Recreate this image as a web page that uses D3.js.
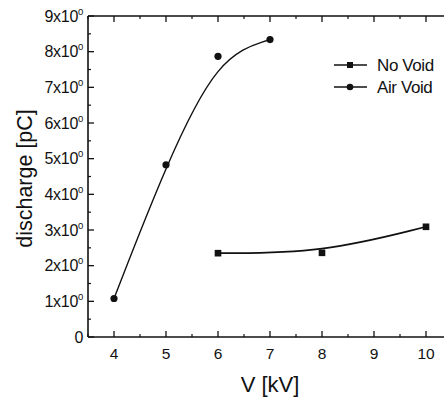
<!DOCTYPE html>
<html><head><meta charset="utf-8">
<script src="https://cdn.jsdelivr.net/npm/d3@7"></script>
<style>body{margin:0;background:#fff}svg{display:block}text{font-family:"Liberation Sans",Arial,sans-serif;fill:#111}</style>
</head><body>
<svg id="c" width="444" height="400"></svg>
<script>
const airX = [4, 5, 6, 7];
const airY = [1.08, 4.83, 7.87, 8.34];
const noX = [6, 8, 10];
const noY = [2.35, 2.36, 3.09];
const xTicks = [4, 5, 6, 7, 8, 9, 10];
const yTicks = [0, 1, 2, 3, 4, 5, 6, 7, 8, 9];
const seriesNames = ["No Void", "Air Void"];
const xTitle = "V [kV]";
const yTitle = "discharge [pC]";

const svg = d3.select("#c");
const L = 88, R = 452, T = 16, B = 337;
const x = d3.scaleLinear().domain([3.5, 10.5]).range([L, R]);
const y = d3.scaleLinear().domain([0, 9]).range([B, T]);
const ink = "#111";

const g = svg.append("g");
g.append("line").attr("x1", L).attr("x2", R).attr("y1", B).attr("y2", B).attr("stroke", ink).attr("stroke-width", 1.6);
g.append("line").attr("x1", L).attr("x2", R).attr("y1", T).attr("y2", T).attr("stroke", ink).attr("stroke-width", 1.6);
g.append("line").attr("x1", L).attr("x2", L).attr("y1", T).attr("y2", B).attr("stroke", ink).attr("stroke-width", 1.6);

const xMinor = d3.range(3.5, 10.51, 0.5).filter(v => !xTicks.includes(v));
xTicks.forEach(v => {
  g.append("line").attr("x1", x(v)).attr("x2", x(v)).attr("y1", B).attr("y2", B - 6).attr("stroke", ink).attr("stroke-width", 1.3);
  g.append("line").attr("x1", x(v)).attr("x2", x(v)).attr("y1", T).attr("y2", T + 6).attr("stroke", ink).attr("stroke-width", 1.3);
  g.append("text").attr("x", x(v)).attr("y", B + 22).attr("text-anchor", "middle").attr("font-size", 15.5).text(v);
});
xMinor.forEach(v => {
  g.append("line").attr("x1", x(v)).attr("x2", x(v)).attr("y1", B).attr("y2", B - 3).attr("stroke", ink).attr("stroke-width", 1.2);
  g.append("line").attr("x1", x(v)).attr("x2", x(v)).attr("y1", T).attr("y2", T + 3).attr("stroke", ink).attr("stroke-width", 1.2);
});

yTicks.forEach(v => {
  g.append("line").attr("x1", L).attr("x2", L + 6).attr("y1", y(v)).attr("y2", y(v)).attr("stroke", ink).attr("stroke-width", 1.3);
  const t = g.append("text").attr("x", L - 5).attr("y", y(v) + 5.5).attr("text-anchor", "end").attr("font-size", 16).attr("letter-spacing", -0.3);
  if (v === 0) { t.text("0"); }
  else {
    t.append("tspan").text(v + "x10");
    t.append("tspan").attr("font-size", 9.5).attr("dy", -7).text("0");
  }
});
d3.range(0.5, 9, 1).forEach(v => {
  g.append("line").attr("x1", L).attr("x2", L + 3).attr("y1", y(v)).attr("y2", y(v)).attr("stroke", ink).attr("stroke-width", 1.2);
});

svg.append("text").attr("x", x(7)).attr("y", 392).attr("text-anchor", "middle").attr("font-size", 22).text(xTitle);
svg.append("text").attr("transform", `translate(32,${(T + B) / 2 + 2}) rotate(-90)`).attr("text-anchor", "middle").attr("font-size", 21.5).text(yTitle);

const line = d3.line().x(d => x(d[0])).y(d => y(d[1])).curve(d3.curveBasis);
const air = airX.map((v, i) => [v, airY[i]]);
const no = noX.map((v, i) => [v, noY[i]]);
svg.append("path").attr("d", line(air)).attr("fill", "none").attr("stroke", ink).attr("stroke-width", 1.4);
svg.append("path").attr("d", line(no)).attr("fill", "none").attr("stroke", ink).attr("stroke-width", 1.7);

svg.selectAll(".air").data(air).enter().append("circle").attr("cx", d => x(d[0])).attr("cy", d => y(d[1])).attr("r", 3.6).attr("fill", ink);
svg.selectAll(".no").data(no).enter().append("rect").attr("x", d => x(d[0]) - 3.3).attr("y", d => y(d[1]) - 3.3).attr("width", 6.6).attr("height", 6.6).attr("fill", ink);

const lg = svg.append("g");
[65, 87].forEach((ly, i) => {
  lg.append("line").attr("x1", 334).attr("x2", 367).attr("y1", ly).attr("y2", ly).attr("stroke", ink).attr("stroke-width", 1.5);
  if (i === 0) lg.append("rect").attr("x", 347).attr("y", ly - 3).attr("width", 6).attr("height", 6).attr("fill", ink);
  else lg.append("circle").attr("cx", 350).attr("cy", ly).attr("r", 3.3).attr("fill", ink);
  lg.append("text").attr("x", 377).attr("y", ly + 6).attr("font-size", 17).attr("letter-spacing", -0.4).text(seriesNames[i]);
});
</script>
</body></html>
